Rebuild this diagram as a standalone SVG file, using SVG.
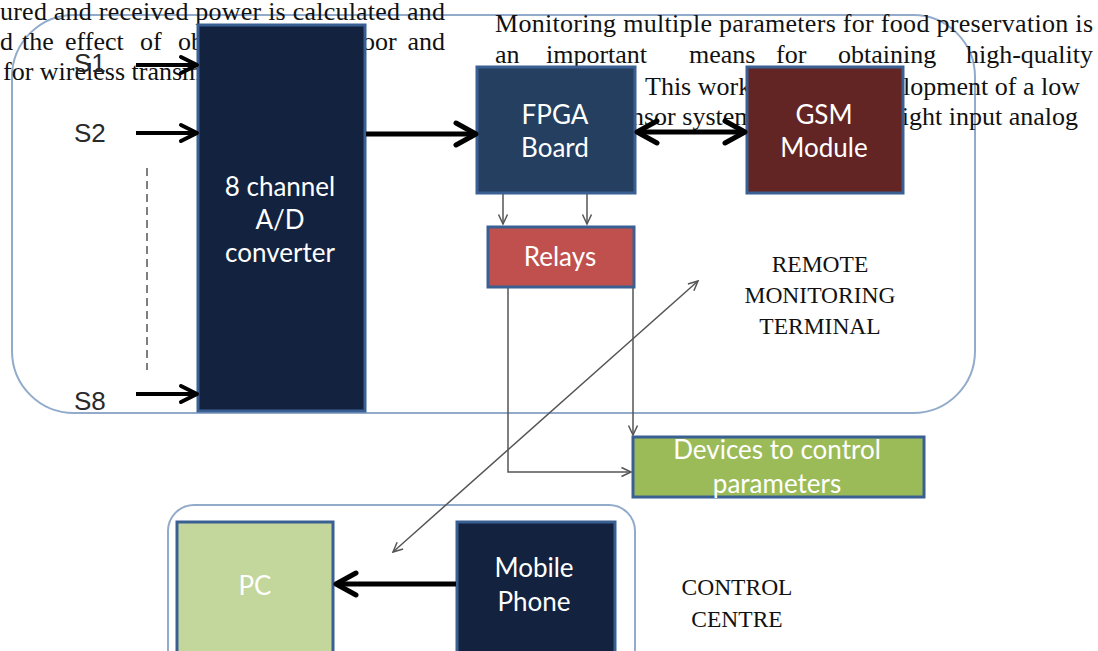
<svg xmlns="http://www.w3.org/2000/svg" width="1098" height="651" viewBox="0 0 1098 651">
  <style>
    .frame { fill: none; stroke: #92ABCB; stroke-width: 2; }
    .box { stroke: #3A6093; stroke-width: 3; }
    .label { font-family: Lato, "Open Sans", "Liberation Sans", sans-serif; font-size: 26px; fill: #FFFFFF; text-anchor: middle; }
    .page { font-family: "Liberation Serif", "Times New Roman", serif; font-size: 26px; fill: #111111; }
    .caption { font-family: "Liberation Serif", "Times New Roman", serif; font-size: 23.5px; fill: #111111; text-anchor: middle; }
    .sig { font-family: "Liberation Sans", Arial, sans-serif; font-size: 26px; fill: #2A2A2A; }
    .bold { fill: none; stroke: #000000; }
    .thin { fill: none; stroke: #555555; stroke-width: 1.5; }
  </style>
  <defs>
    <marker id="head-l" markerUnits="userSpaceOnUse" viewBox="0 0 26 28" markerWidth="26" markerHeight="28" refX="21" refY="14" orient="auto-start-reverse">
      <path d="M3,3 L23,14 L3,25" fill="none" stroke="#000" stroke-width="5" stroke-linecap="round" stroke-linejoin="round"/>
    </marker>
    <marker id="head-m" markerUnits="userSpaceOnUse" viewBox="0 0 22 22" markerWidth="22" markerHeight="22" refX="17" refY="11" orient="auto-start-reverse">
      <path d="M3,3 L19,11 L3,19" fill="none" stroke="#000" stroke-width="4" stroke-linecap="round" stroke-linejoin="round"/>
    </marker>
    <marker id="head-t" markerUnits="userSpaceOnUse" viewBox="0 0 12 12" markerWidth="12" markerHeight="12" refX="10.5" refY="6" orient="auto-start-reverse">
      <path d="M1,1.5 L10.5,6 L1,10.5" fill="none" stroke="#555" stroke-width="1.5"/>
    </marker>
  </defs>

  <rect width="1098" height="651" fill="#FFFFFF"/>

  <!-- enclosing outlines -->
  <g id="remote-terminal-frame">
    <rect class="frame" x="12" y="15" width="963" height="398" rx="62" ry="62"/>
  </g>
  <g id="control-centre-frame">
    <rect class="frame" x="168" y="505" width="467" height="180" rx="26" ry="26"/>
  </g>

  <!-- running text of the page -->
  <g id="page-text" class="page">
    <text x="0" y="20" textLength="445" lengthAdjust="spacing">ured and received power is calculated and</text>
    <text y="50"><tspan x="0">d</tspan><tspan x="22">the</tspan><tspan x="65">effect</tspan><tspan x="140">of</tspan><tspan x="178">ob</tspan><tspan x="362">oor</tspan><tspan x="445" text-anchor="end">and</tspan></text>
    <text x="3" y="80">for wireless transm</text>
    <text x="495" y="32" textLength="598" lengthAdjust="spacing">Monitoring multiple parameters for food preservation is</text>
    <text y="63"><tspan x="495">an</tspan><tspan x="546">important</tspan><tspan x="689">means</tspan><tspan x="776">for</tspan><tspan x="838">obtaining</tspan><tspan x="1093" text-anchor="end">high-quality</tspan></text>
    <text x="645" y="95">This work</text>
    <text x="1080" y="95" text-anchor="end">lopment of a low</text>
    <text x="631" y="125">nsor system</text>
    <text x="1078" y="125" text-anchor="end">ight input analog</text>
  </g>

  <!-- sensor inputs -->
  <g id="sensor-labels" class="sig">
    <text x="74" y="72">S1</text>
    <text x="74" y="142">S2</text>
    <text x="74" y="410">S8</text>
  </g>

  <g id="adc">
    <rect class="box" x="198" y="25" width="167" height="386" fill="#13233F" stroke="#4A6E9E" stroke-width="2.5"/>
    <text class="label"><tspan x="280" y="196">8 channel</tspan><tspan x="280" y="229">A/D</tspan><tspan x="280" y="262">converter</tspan></text>
  </g>

  <g id="fpga">
    <rect class="box" x="477" y="67" width="158" height="126" fill="#243F60"/>
    <text class="label"><tspan x="555" y="124">FPGA</tspan><tspan x="555" y="157">Board</tspan></text>
  </g>

  <g id="gsm">
    <rect class="box" x="747" y="67" width="156" height="126" fill="#632523"/>
    <text class="label"><tspan x="824" y="124">GSM</tspan><tspan x="824" y="157">Module</tspan></text>
  </g>

  <g id="relays">
    <rect class="box" x="488" y="227" width="146" height="60" fill="#C0504D"/>
    <text class="label" x="560" y="266">Relays</text>
  </g>

  <g id="devices">
    <rect class="box" x="633" y="437" width="291" height="60" fill="#9BBB59"/>
    <text class="label" font-size="25.5" fill="#F4F8EC"><tspan x="777" y="459">Devices to control</tspan><tspan x="777" y="493">parameters</tspan></text>
  </g>

  <g id="pc">
    <rect class="box" x="177" y="522" width="156" height="140" fill="#C3D69B"/>
    <text class="label" x="255" y="595" fill="#F3F6EA">PC</text>
  </g>

  <g id="mobile">
    <rect class="box" x="457" y="522" width="158" height="140" fill="#13233F"/>
    <text class="label"><tspan x="534" y="577">Mobile</tspan><tspan x="534" y="611">Phone</tspan></text>
  </g>

  <!-- block captions -->
  <g id="captions" class="caption">
    <text><tspan x="820" y="272">REMOTE</tspan><tspan x="820" y="303">MONITORING</tspan><tspan x="820" y="334">TERMINAL</tspan></text>
    <text><tspan x="737" y="595">CONTROL</tspan><tspan x="737" y="627">CENTRE</tspan></text>
  </g>

  <!-- connectors -->
  <g id="connectors">
    <line x1="147" y1="168" x2="147" y2="370" stroke="#555" stroke-width="1.5" stroke-dasharray="8 5"/>
    <line class="bold" x1="136" y1="65" x2="195" y2="65" stroke-width="4" marker-end="url(#head-m)"/>
    <line class="bold" x1="136" y1="133" x2="195" y2="133" stroke-width="4" marker-end="url(#head-m)"/>
    <line class="bold" x1="136" y1="394" x2="195" y2="394" stroke-width="4" marker-end="url(#head-m)"/>
    <line class="bold" x1="366" y1="134" x2="474" y2="134" stroke-width="5" marker-end="url(#head-l)"/>
    <line class="bold" x1="639" y1="132" x2="743" y2="132" stroke-width="5" marker-start="url(#head-l)" marker-end="url(#head-l)"/>
    <line class="bold" x1="456" y1="584" x2="338" y2="584" stroke-width="5" marker-end="url(#head-l)"/>
    <line class="thin" x1="503" y1="194" x2="503" y2="224" marker-end="url(#head-t)"/>
    <line class="thin" x1="587" y1="194" x2="587" y2="224" marker-end="url(#head-t)"/>
    <polyline class="thin" points="508,288 508,472 631,472" marker-end="url(#head-t)"/>
    <line class="thin" x1="633" y1="288" x2="633" y2="435" marker-end="url(#head-t)"/>
    <line class="thin" x1="393" y1="552" x2="698" y2="281" marker-start="url(#head-t)" marker-end="url(#head-t)"/>
  </g>
</svg>
